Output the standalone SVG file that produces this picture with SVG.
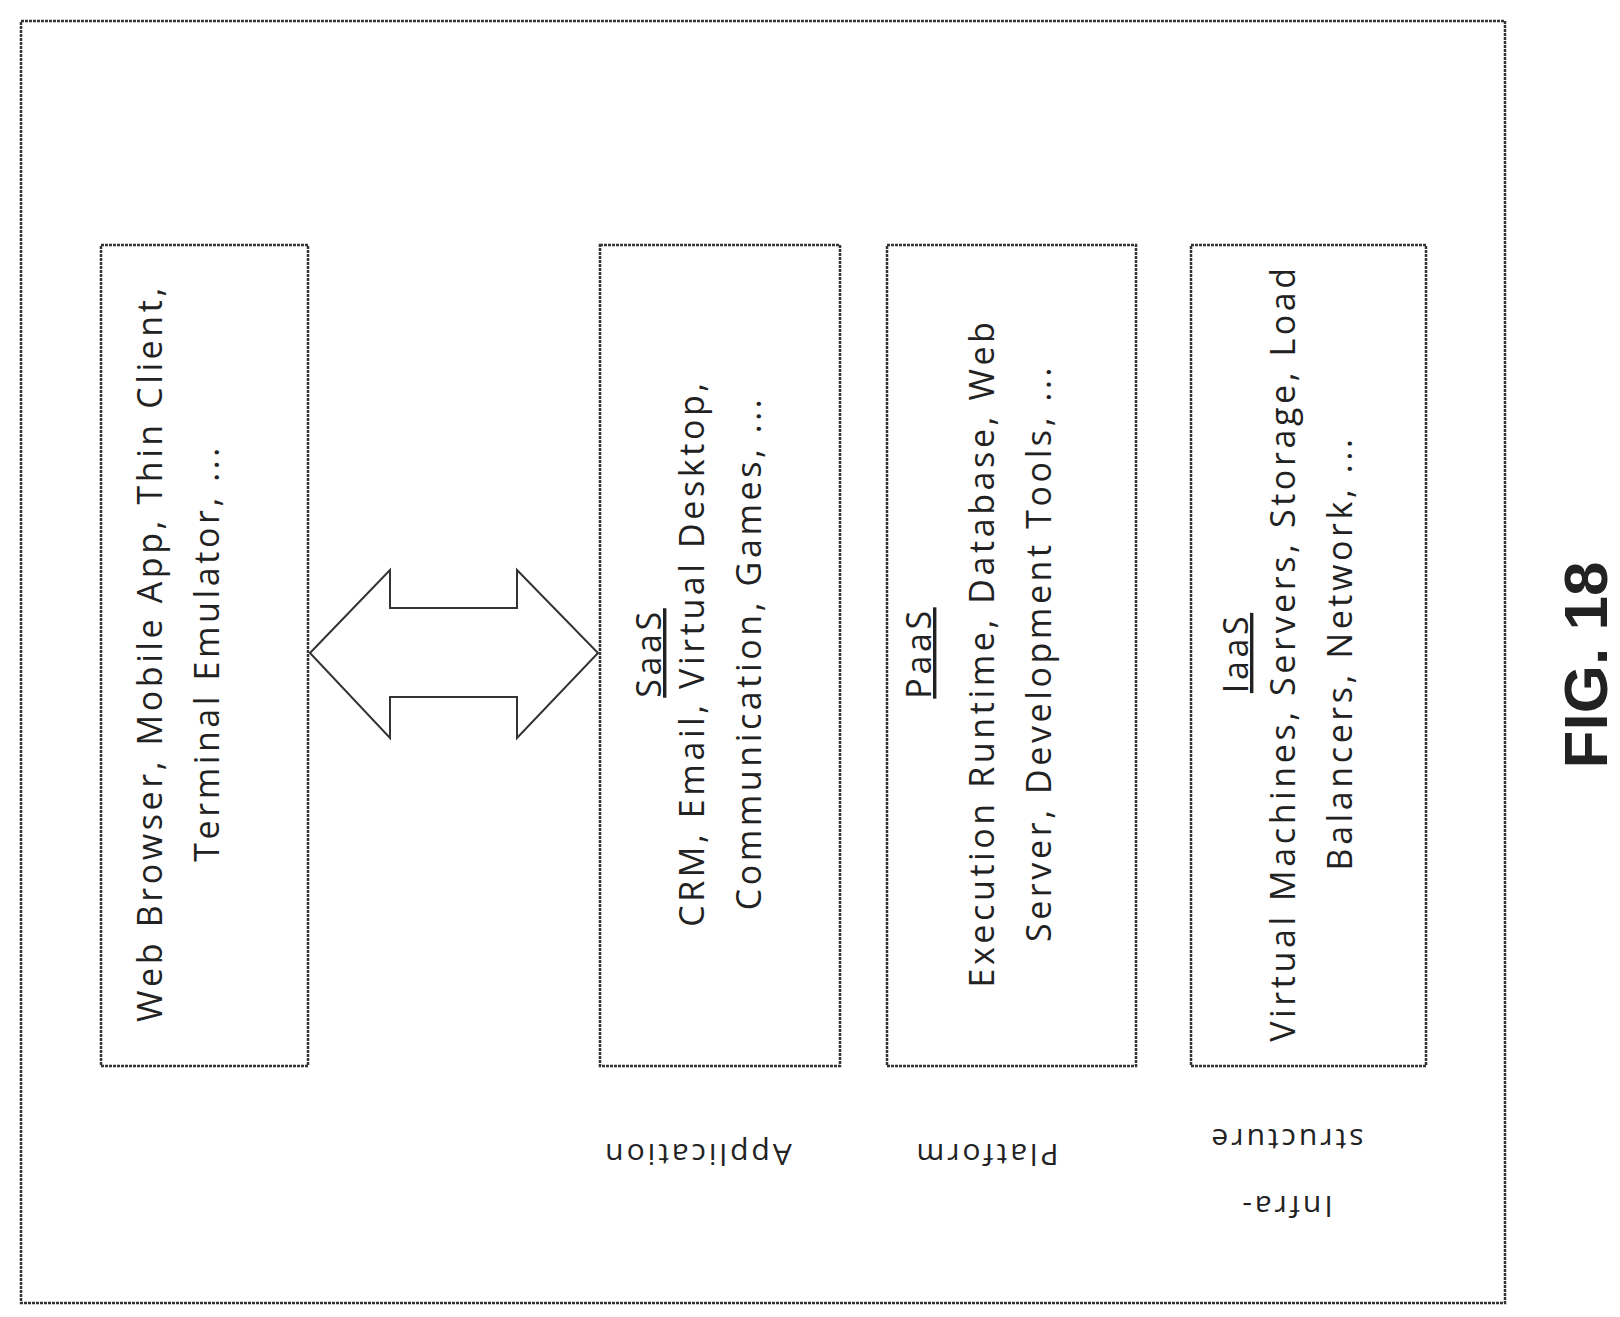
<svg xmlns="http://www.w3.org/2000/svg" width="1620" height="1317" viewBox="0 0 1620 1317">
<style>
.b{fill:none;stroke:#333;stroke-width:2.5;stroke-dasharray:3 1}
.m{font-family:"Open Sans",sans-serif;font-size:30px;fill:#222;text-anchor:middle;letter-spacing:3px}
.n{font-family:"Open Sans",sans-serif;font-size:34px;fill:#222;text-anchor:middle;letter-spacing:3.6px}
.h{text-decoration:underline}
</style>
<rect width="1620" height="1317" fill="#fff"/>
<rect x="21" y="21" width="1484" height="1282" class="b"/>
<g id="client"><rect x="101" y="245" width="207" height="821" class="b"/>
<text class="n" transform="translate(162,653) rotate(-90)"><tspan x="0" y="0">Web Browser, Mobile App, Thin Client,</tspan><tspan x="0" y="57">Terminal Emulator, ...</tspan></text></g>
<g id="saas"><rect x="600" y="245" width="240" height="821" class="b"/>
<text class="n" transform="translate(661,653) rotate(-90)"><tspan x="0" y="0" class="h">SaaS</tspan><tspan x="0" y="43">CRM, Email, Virtual Desktop,</tspan><tspan x="0" y="100">Communication, Games, ...</tspan></text></g>
<g id="paas"><rect x="887" y="245" width="249" height="821" class="b"/>
<text class="n" transform="translate(931,653) rotate(-90)"><tspan x="0" y="0" class="h">PaaS</tspan><tspan x="0" y="63">Execution Runtime, Database, Web</tspan><tspan x="0" y="120">Server, Development Tools, ...</tspan></text></g>
<g id="iaas"><rect x="1191" y="245" width="235" height="821" class="b"/>
<text class="n" transform="translate(1248,653) rotate(-90)"><tspan x="0" y="0" class="h">IaaS</tspan><tspan x="0" y="47">Virtual Machines, Servers, Storage, Load</tspan><tspan x="0" y="104">Balancers, Network, ...</tspan></text></g>
<g id="connectors"><polygon points="310,653 390,570 390,608 517,608 517,570 598,653 517,738 517,697 390,697 390,738" fill="#fff" stroke="#333" stroke-width="2"/></g>
<g id="layers">
<text class="m" transform="translate(697,1144) rotate(180)">Application</text>
<text class="m" transform="translate(986,1144) rotate(180)">Platform</text>
<text class="m" transform="translate(1286,1196) rotate(180)"><tspan x="0" y="0">Infra-</tspan><tspan x="0" y="67">structure</tspan></text>
</g>
<text transform="translate(1607,665) rotate(-90)" text-anchor="middle" font-family="Liberation Sans,Arial,sans-serif" font-weight="bold" font-size="62" fill="#222">FIG. 18</text>
</svg>
